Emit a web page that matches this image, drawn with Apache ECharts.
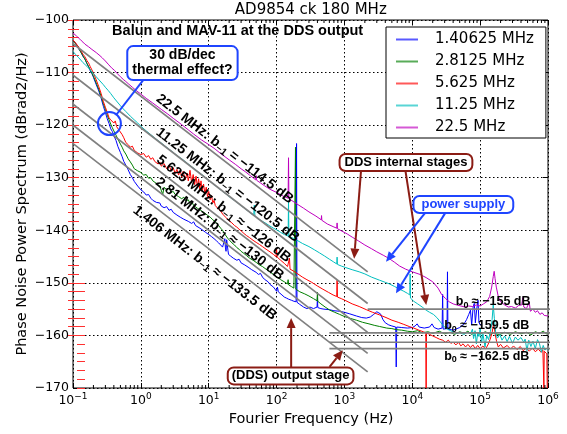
<!DOCTYPE html>
<html><head><meta charset="utf-8">
<script src="https://cdn.jsdelivr.net/npm/echarts@6/dist/echarts.min.js"></script>
<style>html,body{margin:0;padding:0;background:#fff}#c{width:567px;height:434px}</style>
</head><body><div id="c"></div>
<script>
// ---------------- DATA ----------------
const seriesNames = ['1.40625 MHz', '2.8125 MHz', '5.625 MHz', '11.25 MHz', '22.5 MHz'];
const seriesColors = ['#0000ff', '#008000', '#ff0000', '#00bfbf', '#bf00bf'];

const blue1406 = [[0.1,-103.8],[0.11,-104.5],[0.12,-105.4],[0.13,-106.0],[0.14,-106.9],[0.15,-107.4],[0.16,-108.3],[0.17,-108.9],[0.18,-109.7],[0.19,-110.2],[0.2,-110.9],[0.22,-112.3],[0.24,-113.5],[0.26,-114.9],[0.28,-116.4],[0.3,-117.6],[0.32,-118.8],[0.34,-119.7],[0.36,-120.7],[0.38,-121.2],[0.4,-122.0],[0.43,-122.9],[0.46,-124.1],[0.5,-125.2],[0.53,-126.0],[0.56,-126.9],[0.6,-127.6],[0.65,-128.5],[0.7,-129.4],[0.75,-130.0],[0.8,-130.7],[0.85,-131.0],[0.9,-131.6],[0.95,-131.8],[1.0,-132.3],[1.1,-132.7],[1.2,-133.3],[1.3,-133.2],[1.4,-133.9],[1.5,-134.3],[1.6,-134.0],[1.7,-134.7],[1.8,-135.0],[1.9,-134.8],[2.0,-135.4],[2.2,-135.7],[2.4,-135.5],[2.6,-136.2],[2.8,-136.0],[3.0,-136.6],[3.2,-136.4],[3.4,-137.1],[3.6,-136.8],[3.8,-137.5],[4.0,-137.2],[4.3,-137.9],[4.6,-137.6],[5.0,-138.3],[5.3,-138.0],[5.6,-138.7],[6.0,-138.4],[6.4,-139.1],[6.8,-138.8],[7.2,-139.5],[7.6,-139.3],[8.0,-139.9],[8.5,-139.7],[9.0,-140.4],[9.5,-140.2],[10,-140.8],[10.5,-140.6],[11,-141.2],[11.5,-141.0],[12,-141.6],[12.5,-141.4],[13,-142.0],[13.5,-141.8],[14,-142.4],[14.5,-142.2],[15,-142.8],[15.5,-142.6],[16,-143.2],[16.5,-143.5],[17,-143.0],[17.3,-141.6],[17.6,-143.2],[18,-144.0],[18.4,-141.8],[18.8,-141.7],[19.2,-143.8],[19.6,-144.6],[20,-144.4],[21,-144.9],[22,-144.7],[23,-145.3],[24,-145.1],[26,-145.7],[28,-145.5],[30,-146.2],[32,-146.0],[34,-146.6],[36,-146.4],[38,-147.0],[40,-146.9],[43,-147.5],[46,-147.3],[50,-148.0],[54,-148.4],[58,-148.2],[62,-148.9],[66,-149.3],[70,-149.1],[75,-149.8],[80,-150.3],[85,-150.1],[90,-150.8],[95,-151.2],[100,-151.6],[103,-150.8],[106,-151.7],[110,-152.0],[120,-152.3],[130,-152.7],[140,-152.9],[150,-153.1],[165,-153.3],[180,-153.5],[194,-153.6],[197,-123.5],[200,-153.7],[220,-154.1],[250,-154.6],[280,-154.9],[310,-154.6],[350,-154.9],[395,-154.6],[400,-152.8],[405,-154.7],[450,-154.9],[500,-155.0],[600,-155.1],[700,-155.3],[850,-155.4],[1000,-155.6],[1200,-155.9],[1500,-156.3],[1800,-156.6],[2100,-156.7],[2400,-156.5],[2700,-156.0],[3000,-155.5],[3200,-155.3],[3400,-155.9],[3700,-157.0],[4000,-157.6],[4500,-158.0],[5000,-158.2],[5700,-158.4],[5800,-166.0],[5900,-158.4],[7000,-158.5],[8500,-158.6],[10000,-158.5],[11000,-158.2],[11800,-157.8],[12600,-158.4],[15000,-158.6],[18000,-158.4],[19500,-157.8],[21000,-158.5],[24000,-158.8],[27500,-158.6],[28000,-152.2],[28500,-158.8],[32500,-158.7],[33000,-147.9],[33500,-158.8],[40000,-159.0],[50000,-158.5],[58000,-157.8],[63000,-157.0],[68000,-156.0],[72000,-155.2],[75000,-158.0],[79000,-154.5],[82000,-153.9],[85000,-157.6],[89000,-155.0],[93000,-153.3],[96000,-157.5],[100000,-158.0]];

const green2812 = [[0.1,-103.8],[0.11,-104.6],[0.12,-105.3],[0.13,-106.1],[0.14,-106.8],[0.15,-107.5],[0.16,-108.2],[0.17,-108.9],[0.18,-109.5],[0.19,-110.1],[0.2,-110.7],[0.22,-112.0],[0.24,-113.2],[0.26,-114.5],[0.28,-115.9],[0.3,-117.0],[0.32,-118.1],[0.34,-119.0],[0.36,-119.8],[0.38,-120.5],[0.4,-121.1],[0.43,-121.9],[0.46,-122.7],[0.5,-123.6],[0.53,-124.2],[0.56,-124.9],[0.6,-125.5],[0.65,-126.4],[0.7,-127.0],[0.75,-127.6],[0.8,-128.3],[0.85,-128.0],[0.9,-128.7],[0.95,-128.9],[1.0,-129.0],[1.1,-129.5],[1.2,-129.4],[1.3,-130.1],[1.4,-130.0],[1.5,-130.6],[1.6,-130.4],[1.7,-131.1],[1.8,-130.9],[1.9,-131.6],[2.0,-131.3],[2.1,-133.2],[2.2,-131.8],[2.4,-132.3],[2.6,-132.0],[2.8,-132.8],[3.0,-132.6],[3.2,-133.2],[3.4,-132.9],[3.6,-133.6],[3.8,-133.3],[4.0,-134.0],[4.3,-133.7],[4.6,-134.4],[5.0,-134.2],[5.3,-134.9],[5.6,-134.5],[6.0,-135.3],[6.4,-135.0],[6.8,-135.8],[7.2,-135.5],[7.6,-136.2],[8.0,-135.9],[8.5,-136.6],[9.0,-136.3],[9.5,-137.1],[10,-136.8],[10.5,-137.5],[11,-137.3],[11.5,-138.0],[12,-137.7],[12.5,-138.4],[13,-138.2],[14,-139.1],[15,-139.6],[16,-140.0],[17,-140.6],[18,-140.9],[19,-141.5],[20,-141.8],[22,-142.4],[24,-142.8],[26,-143.3],[28,-143.6],[30,-144.0],[33,-144.4],[36,-144.8],[40,-145.3],[45,-145.7],[50,-146.1],[56,-146.6],[62,-146.9],[70,-147.4],[80,-147.9],[90,-148.4],[100,-148.8],[115,-149.4],[130,-149.8],[145,-150.2],[148,-149.4],[151,-150.4],[165,-150.7],[180,-151.0],[188,-151.1],[190,-124.2],[192,-151.2],[220,-151.7],[260,-152.1],[300,-152.5],[350,-153.0],[395,-153.4],[400,-151.8],[405,-153.5],[450,-154.0],[520,-154.6],[610,-155.2],[720,-155.6],[850,-156.0],[1000,-156.4],[1250,-156.8],[1500,-157.1],[1850,-157.5],[2300,-157.8],[2800,-158.1],[3300,-158.3],[4200,-158.6],[5000,-158.7],[5800,-158.9],[7000,-159.0],[8500,-159.2],[10000,-159.3],[12000,-159.1],[14000,-159.5],[17000,-159.3],[20000,-159.6],[25000,-159.2],[30000,-159.7],[36000,-159.4],[42000,-159.8],[50000,-159.3],[58000,-159.6],[66000,-159.2],[75000,-159.8],[85000,-159.4],[100000,-159.7],[120000,-159.3],[140000,-159.8],[160000,-159.5],[190000,-159.9],[230000,-159.4],[280000,-159.8],[330000,-159.3],[400000,-159.7],[480000,-159.4],[560000,-159.9],[650000,-159.3],[750000,-159.6],[850000,-159.2],[950000,-159.7],[1000000,-159.5]];

const red5625 = [[0.1,-103.8],[0.11,-104.4],[0.12,-105.1],[0.13,-105.8],[0.14,-106.5],[0.15,-107.0],[0.16,-107.7],[0.17,-108.2],[0.18,-108.9],[0.19,-109.5],[0.2,-110.1],[0.22,-111.4],[0.24,-112.7],[0.26,-114.0],[0.28,-115.5],[0.3,-116.6],[0.32,-117.6],[0.34,-118.6],[0.36,-119.0],[0.38,-118.7],[0.4,-119.6],[0.42,-119.2],[0.44,-120.3],[0.46,-120.0],[0.48,-121.0],[0.5,-120.7],[0.53,-121.8],[0.56,-122.4],[0.6,-123.3],[0.63,-123.0],[0.66,-123.8],[0.7,-124.2],[0.75,-124.0],[0.8,-124.8],[0.85,-124.6],[0.9,-125.3],[0.95,-125.1],[1.0,-125.6],[1.1,-125.4],[1.2,-126.1],[1.3,-125.8],[1.4,-126.5],[1.5,-126.2],[1.6,-126.9],[1.7,-126.6],[1.8,-127.4],[1.9,-127.0],[2.0,-127.8],[2.2,-127.3],[2.4,-128.3],[2.6,-127.6],[2.8,-128.7],[3.0,-128.1],[3.2,-129.2],[3.4,-128.4],[3.6,-129.5],[3.8,-128.6],[4.0,-129.9],[4.2,-128.8],[4.5,-130.4],[4.8,-129.1],[5.0,-130.6],[5.3,-128.6],[5.6,-130.9],[5.9,-129.4],[6.2,-131.3],[6.5,-129.7],[6.8,-131.7],[7.1,-130.2],[7.4,-132.2],[7.7,-130.6],[8.0,-132.6],[8.4,-131.2],[8.8,-133.1],[9.2,-131.8],[9.6,-133.6],[10,-132.6],[10.5,-134.2],[11,-133.4],[11.5,-134.8],[12,-134.3],[12.5,-135.3],[13,-135.0],[14,-136.0],[15,-136.3],[16,-136.9],[17,-137.2],[18,-137.6],[19,-137.8],[20,-138.2],[22,-138.6],[24,-139.1],[26,-139.4],[28,-139.8],[30,-140.1],[33,-140.6],[36,-141.0],[40,-141.4],[45,-141.9],[50,-142.3],[56,-142.7],[62,-143.1],[70,-143.6],[80,-144.1],[90,-144.6],[98,-145.0],[100,-143.6],[102,-145.1],[115,-145.7],[130,-146.3],[145,-146.9],[152,-147.2],[155,-145.3],[158,-147.4],[175,-147.7],[200,-148.2],[240,-148.9],[280,-149.4],[330,-149.9],[400,-150.6],[480,-151.2],[580,-151.8],[680,-152.3],[770,-152.6],[780,-149.5],[790,-152.7],[900,-153.0],[1050,-153.4],[1300,-154.0],[1650,-154.5],[2100,-155.1],[2600,-155.6],[3300,-156.1],[4100,-156.6],[5000,-157.1],[6200,-157.5],[7500,-157.9],[9000,-158.3],[10500,-158.6],[12500,-159.0],[14500,-159.3],[15800,-159.5],[16000,-170],[16200,-159.5],[18000,-159.8],[20000,-160.1],[22500,-160.4],[25000,-160.7],[28000,-160.9],[31000,-161.3],[34000,-160.9],[37000,-161.5],[40000,-161.3],[44000,-161.8],[48000,-161.3],[52000,-162.0],[56000,-161.6],[61000,-162.2],[66000,-161.7],[72000,-162.3],[78000,-161.8],[85000,-162.5],[92000,-161.9],[100000,-162.5],[110000,-162.0],[120000,-162.6],[130000,-161.8],[140000,-160.8],[150000,-159.5],[158000,-157.7],[166000,-159.6],[175000,-161.2],[185000,-162.2],[200000,-161.7],[220000,-162.4],[250000,-161.9],[280000,-162.6],[310000,-162.0],[350000,-162.7],[390000,-162.1],[430000,-162.9],[480000,-162.4],[530000,-163.0],[590000,-162.4],[650000,-163.1],[720000,-162.6],[790000,-163.2],[840000,-162.8],[860000,-163.1],[870000,-170],[880000,-163.0],[920000,-163.3],[960000,-163.5],[975000,-170],[1000000,-170]];

const cyan1125 = [[0.1,-106.0],[0.11,-106.6],[0.12,-107.1],[0.13,-107.6],[0.14,-108.1],[0.16,-108.8],[0.18,-109.5],[0.2,-110.2],[0.22,-110.8],[0.25,-111.6],[0.28,-112.3],[0.3,-112.8],[0.33,-113.4],[0.36,-114.0],[0.4,-114.8],[0.45,-115.6],[0.5,-116.3],[0.55,-116.9],[0.6,-117.4],[0.7,-118.3],[0.8,-119.0],[0.9,-119.6],[1.0,-120.2],[1.2,-121.1],[1.4,-121.8],[1.7,-122.7],[2.0,-123.4],[2.5,-124.4],[3.0,-125.2],[3.5,-125.9],[4.0,-126.4],[5.0,-127.4],[6.0,-128.2],[7.0,-128.9],[8.5,-129.7],[10,-130.5],[12,-131.3],[15,-132.3],[18,-133.1],[20,-133.6],[25,-134.5],[30,-135.3],[36,-136.1],[42,-136.8],[46,-137.2],[47,-135.2],[48,-137.3],[55,-137.9],[62,-138.3],[70,-138.7],[80,-139.2],[90,-139.6],[100,-139.9],[115,-140.4],[130,-140.8],[148,-141.1],[150,-134.5],[152,-141.2],[175,-141.5],[200,-141.9],[240,-142.5],[300,-143.1],[360,-143.7],[430,-144.3],[510,-144.9],[600,-145.5],[690,-146.0],[770,-146.4],[780,-145.1],[790,-146.5],[900,-146.8],[1050,-147.1],[1300,-147.5],[1650,-147.9],[2000,-148.3],[2500,-148.9],[3300,-149.5],[4000,-149.9],[4600,-150.2],[5500,-150.7],[6500,-151.2],[7500,-151.6],[8500,-152.0],[9200,-152.3],[9300,-148.3],[9400,-152.9],[10500,-153.5],[12000,-154.0],[14000,-154.6],[16000,-155.2],[18000,-155.6],[20500,-156.0],[23000,-156.6],[25500,-157.3],[28000,-158.0],[31000,-158.6],[35000,-159.0],[40000,-159.3],[45000,-159.6],[50000,-159.5],[58000,-159.8],[65000,-159.4],[72000,-159.7],[77000,-158.8],[80000,-160.6],[84000,-159.1],[88000,-161.6],[92000,-159.5],[96000,-160.2],[100000,-158.6],[105000,-161.4],[110000,-159.7],[118000,-162.2],[125000,-160.0],[133000,-160.8],[142000,-159.2],[150000,-157.0],[156000,-154.2],[162000,-156.8],[170000,-159.6],[180000,-160.5],[195000,-159.8],[210000,-160.9],[230000,-160.1],[250000,-161.2],[270000,-160.2],[300000,-161.5],[330000,-160.3],[360000,-160.9],[400000,-160.4],[440000,-161.3],[460000,-160.7],[490000,-162.9],[520000,-160.9],[560000,-162.1],[600000,-161.1],[650000,-162.5],[700000,-160.8],[750000,-161.6],[800000,-163.2],[850000,-161.9],[900000,-162.8],[950000,-162.4],[1000000,-162.8]];

const magenta225 = [[0.1,-102.5],[0.11,-102.9],[0.12,-103.4],[0.13,-103.8],[0.14,-104.2],[0.15,-104.6],[0.17,-105.1],[0.19,-105.6],[0.22,-106.2],[0.25,-106.8],[0.27,-107.2],[0.3,-107.8],[0.33,-108.4],[0.37,-109.1],[0.41,-109.6],[0.45,-110.2],[0.5,-110.8],[0.55,-111.3],[0.6,-111.7],[0.65,-112.1],[0.75,-112.8],[0.85,-113.4],[1.0,-114.1],[1.2,-114.9],[1.5,-115.8],[2.0,-117.0],[2.5,-117.9],[3.0,-118.7],[4.0,-119.9],[5.0,-120.9],[6.0,-121.7],[7.8,-122.8],[10,-123.7],[12,-124.4],[15,-125.4],[20,-126.6],[25,-127.5],[30,-128.3],[35,-128.9],[40,-129.5],[45,-130.0],[49,-130.4],[50,-129.6],[51,-130.5],[58,-131.0],[66,-131.5],[80,-132.2],[100,-132.8],[125,-133.5],[148,-133.9],[150,-126.2],[152,-134.0],[175,-134.5],[200,-135.0],[250,-135.8],[300,-136.5],[380,-137.3],[455,-138.0],[460,-137.2],[465,-138.1],[560,-138.8],[680,-139.3],[770,-139.6],[780,-138.6],[790,-139.7],[900,-140.1],[1100,-140.7],[1300,-141.3],[1600,-142.0],[2000,-142.8],[2500,-143.5],[3000,-144.1],[3800,-144.8],[4600,-145.4],[5500,-146.1],[6500,-146.8],[8000,-147.4],[10000,-147.9],[13000,-148.4],[16000,-149.0],[20000,-149.8],[24000,-151.0],[27000,-152.2],[31000,-153.0],[35000,-153.6],[40000,-154.0],[45000,-154.2],[52000,-154.4],[60000,-154.6],[68000,-154.4],[77000,-154.5],[88000,-154.2],[100000,-154.4],[112000,-154.0],[125000,-153.6],[138000,-152.6],[148000,-150.8],[156000,-148.8],[161000,-147.8],[166000,-149.2],[173000,-150.8],[185000,-152.6],[200000,-153.6],[230000,-154.2],[260000,-154.6],[290000,-154.5],[330000,-154.8],[370000,-154.3],[410000,-154.2],[425000,-152.8],[440000,-154.6],[480000,-154.9],[510000,-155.2],[530000,-153.7],[550000,-155.4],[600000,-155.0],[650000,-155.6],[700000,-155.3],[760000,-156.0],[820000,-155.7],[880000,-156.2],[940000,-155.9],[1000000,-156.3]];

// flicker (b_-1) asymptotes: endpoints [f, dB]
const flicker225  = [[0.08,-103.53],[2200,-147.92]];
const flicker1125 = [[0.08,-109.53],[2200,-153.92]];
const flicker5625 = [[0.08,-115.03],[2200,-159.42]];
const flicker281  = [[0.08,-119.03],[2200,-163.42]];
const flicker1406 = [[0.08,-122.53],[2200,-166.92]];
// white (b_0) floors
const white155   = [[2200,-155],[1350000,-155]];
const white1595  = [[600,-159.5],[1350000,-159.5]];
const white1613  = [[600,-161.3],[1350000,-161.3]];
const white1625  = [[600,-162.5],[1350000,-162.5]];

const xTickMin = 0.1, xTickMax = 1000000;
const yMin = -170, yMax = -100, yStep = 10;
const minorMultipliers = [2, 3, 4, 5, 6, 7, 8, 9];
const decadeExponents = [-1, 0, 1, 2, 3, 4, 5];

// --------------- CHART ----------------
const chart = echarts.init(document.getElementById('c'), null, {renderer: 'canvas'});
const FONT = 'DejaVu Sans';
const BOLD = 'Liberation Sans';

const dataSeries = [blue1406, green2812, red5625, cyan1125, magenta225].map((d, i) => ({
  name: seriesNames[i], type: 'line', data: d, symbol: 'none', xAxisIndex: 0, yAxisIndex: 0,
  lineStyle: {color: seriesColors[i], width: 1}, itemStyle: {color: seriesColors[i]},
  z: 3, silent: true
}));
const grayLines = [flicker225, flicker1125, flicker5625, flicker281, flicker1406, white155, white1595, white1613, white1625].map(d => ({
  type: 'line', data: d, symbol: 'none', clip: false, xAxisIndex: 0, yAxisIndex: 0,
  lineStyle: {color: '#808080', width: 1.7}, z: 4, silent: true
}));

const redTick = '#ff3030';
chart.setOption({
  animation: false,
  backgroundColor: '#fff',
  textStyle: {fontFamily: FONT},
  grid: [
    {left: 73, right: 19, top: 20, bottom: 46, show: true, borderColor: '#000', borderWidth: 1, backgroundColor: 'transparent'},
    {left: 73, right: 19, top: 20, bottom: 98.6},
    {left: 73, right: 19, top: 282.9, bottom: 46}
  ],
  xAxis: [
    {type: 'log', logBase: 10, min: xTickMin, max: xTickMax, gridIndex: 0, splitNumber: 7,
     axisLine: {show: false}, axisTick: {show: true, inside: true, length: 5, lineStyle: {color: '#000'}},
     splitLine: {show: true, lineStyle: {color: '#000', type: [1.5, 2.5], width: 1}},
     axisLabel: {margin: 4, color: '#000', formatter: v => { const e = Math.round(Math.log10(v)); return '{b|10}{s|' + (e < 0 ? '\u2212' : '') + Math.abs(e) + '}'; },
       rich: {b: {fontSize: 12.5, lineHeight: 18, fontFamily: FONT, color: '#000'}, s: {fontSize: 9, lineHeight: 10, verticalAlign: 'top', fontFamily: FONT, color: '#000'}}}},
    {type: 'log', logBase: 10, min: xTickMin, max: xTickMax, gridIndex: 0, position: 'top', splitNumber: 7,
     axisLine: {show: false}, axisTick: {show: true, inside: true, length: 5, lineStyle: {color: '#000'}},
     splitLine: {show: false}, axisLabel: {show: false}},
    {type: 'value', gridIndex: 1, show: false},
    {type: 'value', gridIndex: 2, show: false}
  ],
  yAxis: [
    {type: 'value', min: yMin, max: yMax, interval: yStep, gridIndex: 0,
     axisLine: {show: false}, axisTick: {show: true, inside: true, length: 5, lineStyle: {color: '#000'}},
     splitLine: {show: true, lineStyle: {color: '#000', type: [1.5, 2.5], width: 1}},
     axisLabel: {margin: 4, color: '#000', fontSize: 12.5, fontFamily: FONT, formatter: v => (v < 0 ? '\u2212' + (-v) : '' + v)}},
    {type: 'value', min: yMin, max: yMax, interval: yStep, gridIndex: 0, position: 'right',
     axisLine: {show: false}, axisTick: {show: true, inside: true, length: 5, lineStyle: {color: '#000'}},
     splitLine: {show: false}, axisLabel: {show: false}},
    {type: 'value', min: -160, max: -100, interval: 10 / 6, gridIndex: 1, position: 'left', offset: -6,
     axisLine: {show: false}, axisTick: {show: true, inside: false, length: 11, lineStyle: {color: redTick, width: 1}},
     splitLine: {show: false}, axisLabel: {show: false}},
    {type: 'value', min: -170, max: -150, interval: 10 / 6, gridIndex: 2, position: 'right', offset: -4,
     axisLine: {show: false}, axisTick: {show: true, inside: false, length: 8, lineStyle: {color: redTick, width: 1}},
     splitLine: {show: false}, axisLabel: {show: false}}
  ],
  legend: {
    data: seriesNames, orient: 'vertical', left: 386, top: 27, icon: 'rect',
    itemWidth: 22, itemHeight: 2, itemGap: 5, padding: [4, 12, 2, 10],
    backgroundColor: '#fff', borderColor: '#000', borderWidth: 1, borderRadius: 0,
    itemStyle: {opacity: 0.65},
    textStyle: {fontFamily: FONT, fontSize: 15, color: '#000', lineHeight: 17, padding: [0, 0, 0, 12]},
    selectedMode: false, z: 10
  },
  series: dataSeries.concat(grayLines)
});

// --------------- ANNOTATIONS (anchored in data space) ---------------
const P = (f, v) => chart.convertToPixel({xAxisIndex: 0, yAxisIndex: 0}, [f, v]);
const DRED = '#8b1c14', BLUE = '#1f45ff';
const g = [];

// log minor ticks on top and bottom frame
const yTop = P(1, yMax)[1], yBot = P(1, yMin)[1];
decadeExponents.forEach(e => minorMultipliers.forEach(k => {
  const x = P(k * Math.pow(10, e), yMin)[0];
  g.push({type: 'line', z: 20, shape: {x1: x, y1: yBot, x2: x, y2: yBot - 3}, style: {stroke: '#000', lineWidth: 1}});
  g.push({type: 'line', z: 20, shape: {x1: x, y1: yTop, x2: x, y2: yTop + 3}, style: {stroke: '#000', lineWidth: 1}});
}));

function arrow(p0, p1, color, w) {
  const dx = p1[0] - p0[0], dy = p1[1] - p0[1], L = Math.hypot(dx, dy), ux = dx / L, uy = dy / L;
  const hl = 10, hw = 4.5, bx = p1[0] - ux * hl, by = p1[1] - uy * hl;
  g.push({type: 'line', z: 50, shape: {x1: p0[0], y1: p0[1], x2: bx, y2: by}, style: {stroke: color, lineWidth: w}});
  g.push({type: 'polygon', z: 50, shape: {points: [[p1[0], p1[1]], [bx - uy * hw, by + ux * hw], [bx + uy * hw, by - ux * hw]]}, style: {fill: color}});
}
function box(pt, text, color, textColor, fontSize, pad, lh) {
  g.push({type: 'text', z: 60, x: pt[0], y: pt[1], style: {text: text, fill: textColor, font: 'bold ' + fontSize + 'px "' + BOLD + '"',
    align: 'center', verticalAlign: 'middle', lineHeight: lh, backgroundColor: '#fff', borderColor: color, borderWidth: 2, borderRadius: 5, padding: pad}});
}

// title and axis names
g.push({type: 'text', x: 310.8, y: 10, style: {text: 'AD9854 ck 180 MHz', font: '15px "' + FONT + '"', fill: '#000', align: 'center', verticalAlign: 'middle'}});
g.push({type: 'text', x: 311, y: 419, style: {text: 'Fourier Frequency (Hz)', font: '14.5px "' + FONT + '"', fill: '#000', align: 'center', verticalAlign: 'middle'}});
g.push({type: 'text', x: 22, y: 204, rotation: Math.PI / 2, style: {text: 'Phase Noise Power Spectrum (dBrad2/Hz)', font: '14.5px "' + FONT + '"', fill: '#000', align: 'center', verticalAlign: 'middle'}});
const sub = P(26.7, -102.1);
g.push({type: 'text', z: 60, x: sub[0], y: sub[1], style: {text: 'Balun and MAV-11 at the DDS output', font: 'bold 14.5px "' + BOLD + '"', fill: '#000', align: 'center', verticalAlign: 'middle'}});

// rotated b_-1 labels
const a0 = P(1, -120), a1 = P(10, -130);
const ang = Math.atan2(a1[1] - a0[1], a1[0] - a0[0]);
const flickerLabels = [
  ['22.5 MHz: b{s|\u22121} = \u2212114.5 dB', [17.2, -124.54]],
  ['11.25 MHz: b{s|\u22121} = \u2212120.5 dB', [19.0, -131.39]],
  ['5.625 MHz: b{s|\u22121} \u2248 \u2212126 dB', [16.6, -135.95]],
  ['2.81 MHz: b{s|\u22121} \u2248 \u2212130 dB', [14.5, -139.76]],
  ['1.406 MHz: b{s|\u22121} \u2248 \u2212133.5 dB', [8.73, -146.22]]
];
const richSub = {s: {fontSize: 10, fontWeight: 'bold', fontFamily: BOLD, lineHeight: 10, verticalAlign: 'bottom', fill: '#000'}};
flickerLabels.forEach(([t, a]) => {
  const p = P(a[0], a[1]);
  g.push({type: 'text', z: 55, x: p[0], y: p[1], rotation: -ang,
    style: {text: t, font: 'bold 14px "' + BOLD + '"', fill: '#000', align: 'center', verticalAlign: 'middle', lineHeight: 17, rich: richSub}});
});
// b_0 labels
const whiteLabels = [
  ['b{s|0} \u2248 \u2212155 dB', [43700, -153.6]],
  ['b{s|0} \u2248 \u2212159.5 dB', [29500, -158.2]],
  ['b{s|0} \u2248 \u2212162.5 dB', [29500, -164.0]]
];
whiteLabels.forEach(([t, a]) => {
  const p = P(a[0], a[1]);
  g.push({type: 'text', z: 55, x: p[0], y: p[1],
    style: {text: t, font: 'bold 12.5px "' + BOLD + '"', fill: '#000', align: 'left', verticalAlign: 'middle', lineHeight: 16, rich: {s: {fontSize: 9, fontWeight: 'bold', fontFamily: BOLD, lineHeight: 9, verticalAlign: 'bottom', fill: '#000'}}}});
});

// thermal effect annotation
const cc = P(0.344, -119.7), cr = 11.5;
const c0 = P(1.09, -111.4);
{
  const dx = c0[0] - cc[0], dy = c0[1] - cc[1], L = Math.hypot(dx, dy);
  g.push({type: 'line', z: 50, shape: {x1: c0[0], y1: c0[1], x2: cc[0] + dx / L * cr, y2: cc[1] + dy / L * cr}, style: {stroke: BLUE, lineWidth: 2}});
}
g.push({type: 'circle', z: 50, shape: {cx: cc[0], cy: cc[1], r: cr}, style: {fill: 'none', stroke: BLUE, lineWidth: 2}});
box(P(4.1, -108.2), '30 dB/dec\nthermal effect?', BLUE, '#000', 14, [1, 4], 15);

// DDS internal stages
arrow(P(1760, -128.5), P(1390, -145.4), DRED, 2);
arrow(P(7890, -128.5), P(16050, -154.2), DRED, 2);
box(P(8070, -127.1), 'DDS internal stages', DRED, '#000', 13, [1, 4], 13);

// power supply
arrow(P(15900, -136.5), P(4100, -146.0), BLUE, 2);
arrow(P(31300, -136.5), P(5750, -152.0), BLUE, 2);
box(P(56600, -135.1), 'power supply', BLUE, '#1f45ff', 13, [1, 7], 13);

// (DDS) output stage
arrow(P(164, -166.2), P(164, -156.7), DRED, 2);
arrow(P(603, -166.0), P(944, -162.8), DRED, 2);
box(P(161, -167.7), '(DDS) output stage', DRED, '#000', 13, [1, 3], 13);

chart.setOption({graphic: {elements: g}});
</script></body></html>
